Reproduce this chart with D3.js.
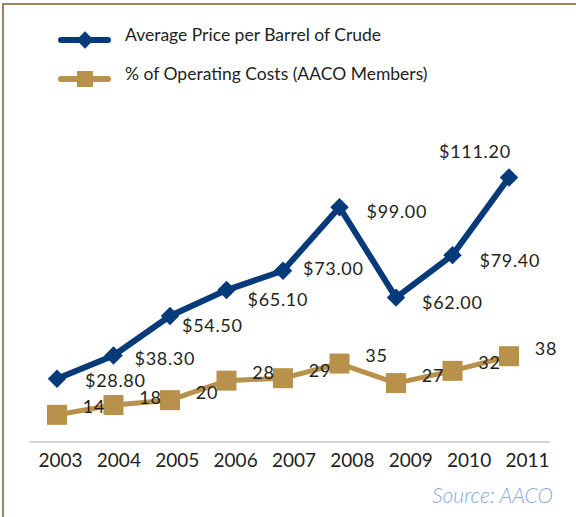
<!DOCTYPE html>
<html>
<head>
<meta charset="utf-8">
<script src="https://cdn.jsdelivr.net/npm/d3@7"></script>
<style>
  body { margin: 0; background: #fff; }
  svg { display: block; font-family: Lato, "Noto Sans", sans-serif; }
</style>
</head>
<body>
<div id="chart"></div>
<script>
const years = ["2003", "2004", "2005", "2006", "2007", "2008", "2009", "2010", "2011"];
const crudePrice = [28.8, 38.3, 54.5, 65.1, 73.0, 99.0, 62.0, 79.4, 111.2];
const operatingPct = [14, 18, 20, 28, 29, 35, 27, 32, 38];
const seriesNames = ["Average Price per Barrel of Crude", "% of Operating Costs (AACO Members)"];
const sourceText = "Source: AACO";

// label nudges for the price labels (layout only)
const priceLabelOffsets = [[28, 2], [21, 3], [12, 10], [21, 9], [20, -2], [27, 4], [26, 5], [27, 5], [-70, -26]];

const width = 576;
const height = 517;
const blue = "#063a78";
const gold = "#b8914a";
const ink = "#231f20";

function drawChart() {
  const svg = d3.select("#chart")
    .append("svg")
    .attr("width", width)
    .attr("height", height);

  // frame
  svg.append("path")
    .attr("d", `M3,${height} V4 H${width}`)
    .attr("fill", "none")
    .attr("stroke", "#9a845c")
    .attr("stroke-width", 2);

  const xScale = d3.scalePoint().domain(years).range([57, 509]);
  const labelScale = d3.scalePoint().domain(years).range([60, 527]);
  const yScale = d3.scaleLinear().domain([0, 120]).range([449, 156]);

  // baseline
  svg.append("line")
    .attr("x1", 29).attr("x2", 550)
    .attr("y1", 442).attr("y2", 442)
    .attr("stroke", "#c6c6c6")
    .attr("stroke-width", 1.5);

  const xAxis = d3.axisBottom(labelScale).tickSize(0).tickPadding(0);
  const ax = svg.append("g")
    .attr("transform", "translate(0, 453)")
    .call(xAxis);
  ax.select(".domain").remove();
  ax.selectAll("text")
    .attr("dy", "0.72em")
    .style("font-family", "Lato, sans-serif")
    .style("font-size", "19px")
    .style("fill", ink);

  const line = d3.line()
    .x((d, i) => xScale(years[i]))
    .y((d) => yScale(d));

  // % of operating costs
  svg.append("path")
    .datum(operatingPct)
    .attr("d", line)
    .attr("fill", "none")
    .attr("stroke", gold)
    .attr("stroke-width", 5);

  svg.append("g")
    .selectAll("path")
    .data(operatingPct)
    .join("path")
    .attr("d", d3.symbol(d3.symbolSquare, 400))
    .attr("transform", (d, i) => `translate(${xScale(years[i])},${yScale(d)})`)
    .attr("fill", gold);

  // crude price
  svg.append("path")
    .datum(crudePrice)
    .attr("d", line)
    .attr("fill", "none")
    .attr("stroke", blue)
    .attr("stroke-width", 6);

  svg.append("g")
    .selectAll("path")
    .data(crudePrice)
    .join("path")
    .attr("d", d3.symbol(d3.symbolSquare, 170))
    .attr("transform", (d, i) => `translate(${xScale(years[i])},${yScale(d)}) rotate(45)`)
    .attr("fill", blue);

  const fmt = d3.format(".2f");

  svg.append("g")
    .selectAll("text")
    .data(crudePrice)
    .join("text")
    .attr("x", (d, i) => xScale(years[i]) + priceLabelOffsets[i][0])
    .attr("y", (d, i) => yScale(d) + priceLabelOffsets[i][1])
    .attr("dy", "0.36em")
    .style("font-size", "18px")
    .style("letter-spacing", "0.7px")
    .style("fill", ink)
    .text((d) => "$" + fmt(d));

  svg.append("g")
    .selectAll("text")
    .data(operatingPct)
    .join("text")
    .attr("x", (d, i) => xScale(years[i]) + 37)
    .attr("y", (d) => yScale(d) - 8)
    .attr("dy", "0.36em")
    .attr("text-anchor", "middle")
    .style("font-size", "18px")
    .style("letter-spacing", "0.7px")
    .style("fill", ink)
    .text((d) => d);

  // legend
  const legend = svg.append("g");
  const legendRows = legend.selectAll("g")
    .data(seriesNames)
    .join("g")
    .attr("transform", (d, i) => `translate(0, ${40 + i * 39})`);

  legendRows.append("line")
    .attr("x1", 61).attr("x2", 108)
    .attr("stroke", (d, i) => i === 0 ? blue : gold)
    .attr("stroke-width", 6)
    .attr("stroke-linecap", "round");

  legendRows.append("path")
    .attr("d", (d, i) => i === 0 ? d3.symbol(d3.symbolSquare, 150)() : d3.symbol(d3.symbolSquare, 256)())
    .attr("transform", (d, i) => i === 0 ? "translate(85,0) rotate(45)" : "translate(85,0)")
    .attr("fill", (d, i) => i === 0 ? blue : gold);

  legendRows.append("text")
    .attr("x", 125)
    .attr("y", -5)
    .attr("dy", "0.36em")
    .style("font-size", "17.5px")
    .style("fill", ink)
    .text((d) => d);

  svg.append("text")
    .attr("x", 553)
    .attr("y", 503)
    .attr("text-anchor", "end")
    .style("font-size", "21px")
    .style("font-style", "italic")
    .style("font-weight", 300)
    .style("fill", "#8aa6d8")
    .text(sourceText);
}

drawChart();
</script>
</body>
</html>
